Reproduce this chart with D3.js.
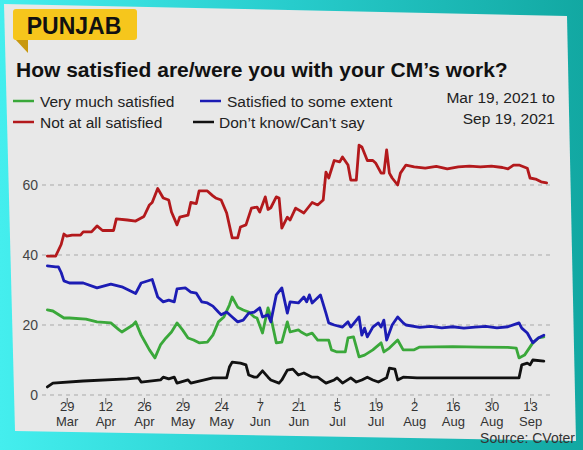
<!DOCTYPE html>
<html><head><meta charset="utf-8">
<script src="https://cdn.jsdelivr.net/npm/d3@7"></script>
<style>html,body{margin:0;padding:0;background:#2bd6d6;}svg{display:block;}</style>
</head><body>
<svg id="c" width="583" height="450"></svg>
<script>
// ---- data (days after Mar 19, 2021; values in %) ----
const startDate = new Date(2021, 2, 19);
const endDate = new Date(2021, 8, 19);
const seriesNames = ["Very much satisfied", "Satisfied to some extent", "Not at all satisfied", "Don\u2019t know/Can\u2019t say"];
const seriesColors = ["#3aa83a", "#1c1cb4", "#b3191c", "#111111"];

const greenDay = [3,5,9,11,17,21,26,29,30,34,35,37,38,40,42,44,46,48,50,52,54,56,58,61,63,65,67,69,70,72,74,76,78,79,81,83,84,85,86,88,90,91,94,95,97,99,101,105,106,108,111,112,114,116,118,121,124,125,127,130,132,136,138,150,160,170,173,174,176,179,181,183];
const greenVal = [24.3,24,22,22,21.7,20.9,20.6,18.6,18,20,20.9,17.1,15.7,12.9,10.6,14.3,16.3,18,20.6,18.6,16.3,15.7,14.9,15.1,17.1,20.9,22.3,25.7,28,25.1,24.3,23.7,22.3,22,17.7,24.9,22.3,18.6,14.9,15.1,20.9,18,18.6,18,17.1,17.7,15.7,15.7,12.9,12.3,12.3,16.3,16.6,10.9,11.4,12.9,14.9,12.3,13.4,15.7,12.9,12.9,13.7,13.8,13.7,13.6,13.4,10.6,11.4,14.9,16.3,16.6];

const blueDay = [3,6,7,8,9,11,16,21,26,30,35,37,41,43,45,47,49,50,53,55,57,59,61,63,65,66,68,70,72,74,76,78,80,81,83,84,86,88,90,91,94,96,97,98,99,102,104,105,107,110,112,113,116,117,118,119,121,123,124,125,126,128,130,132,133,138,142,146,150,154,158,162,166,170,174,175,177,179,181,183];
const blueVal = [36.9,36.6,36.6,35,32.6,32,32,30.6,31.7,30.9,29,32,33,28,26.6,27.1,26.6,30.3,30.6,29.4,29.1,26.6,26.3,25.4,23.7,22.9,23.7,22.3,20.9,21.4,23.4,23.7,24.9,22.3,22.9,20.9,28.6,30.6,23.4,26.6,26.3,28,26.6,28.6,26.3,28.6,23.4,20.6,20,19.4,20.9,19.4,22.3,17.1,19.1,16.6,19.4,20.6,19.4,21.4,15.7,20,22.3,20.6,20,19.3,19.6,19.2,19.5,19.1,19.4,19.6,19.2,19.5,20.6,19.1,17.7,14.9,16.3,17.1];

const redDay = [3,6,8,9,10,12,15,16,19,21,23,27,28,32,35,38,40,41,43,45,47,48,50,51,54,55,57,58,61,63,64,66,68,70,72,73,75,77,79,80,82,83,84,86,87,88,90,91,93,96,99,101,103,104,105,107,109,110,112,113,115,116,117,119,121,122,124,125,126,127,128,130,131,133,136,140,144,148,152,156,160,164,168,170,172,174,177,178,180,182,184];
const redVal = [39.7,39.7,43,46,45.4,45.7,45.7,46.6,46.6,48.3,47,47,50.3,50,49.7,51,54.3,55,59,56.3,55.7,52.3,48.6,50.8,51.4,55,54.7,58.3,58.3,56.9,56.3,55.7,52,44.9,44.9,48,48.6,53.4,53.7,52.3,56.6,53,53.5,56.6,56.3,47.7,50.8,50,53.4,52,55,54.3,55.7,63.7,62,67,66.6,68,65.7,61.4,61.4,71.4,70.9,67,67,66.3,63.4,63.4,70,63.4,62,60,63.4,65.7,65.2,64.8,65.3,64.6,65.2,65.4,65.2,65.4,65,64.6,65.7,65.7,64.8,62,61.7,60.9,60.6];

const blackDay = [3,5,16,32,36,37,44,45,47,49,50,54,55,63,68,69,70,73,75,76,78,79,81,83,84,87,88,90,92,94,96,99,101,104,107,108,110,113,115,117,119,121,123,126,127,129,130,132,137,150,160,170,174,175,177,178,179,183];
const blackVal = [2.3,3.4,4,4.6,4.9,3.7,4.3,5.1,4.6,5.1,3.4,4.3,3.4,4.9,4.9,8,9.4,9.1,8.6,5.7,5.1,5.1,6.9,5.1,4.3,3.4,4.3,7.1,7.4,5.7,6.3,5.1,5.1,3.4,4.3,4.9,3.4,4.9,3.7,4.3,5.1,4.3,3.7,4.9,7.7,7.4,4.3,5.1,4.9,4.9,4.9,4.9,4.9,8.6,9.1,8.6,10,9.7];

const yTicks = [0, 20, 40, 60];
const tickDates = ["2021-03-29","2021-04-12","2021-04-26","2021-05-10","2021-05-24","2021-06-07","2021-06-21","2021-07-05","2021-07-19","2021-08-02","2021-08-16","2021-08-30","2021-09-13"];
const tickDayLabels = ["29","12","26","29","24","7","21","5","19","2","16","30","13"];
const tickMonthLabels = ["Mar","Apr","Apr","May","May","Jun","Jun","Jul","Jul","Aug","Aug","Aug","Sep"];

// ---- drawing ----
const svg = d3.select("#c");
const FONT = "'Liberation Sans', Arial, Helvetica, sans-serif";

const defs = svg.append("defs");
const bg = defs.append("linearGradient").attr("id", "bg").attr("x1", "0").attr("x2", "1").attr("y1", "0").attr("y2", "0");
bg.append("stop").attr("offset", "0").attr("stop-color", "#44eeee");
bg.append("stop").attr("offset", "0.5").attr("stop-color", "#27cccc");
bg.append("stop").attr("offset", "1").attr("stop-color", "#12a8a2");
svg.append("rect").attr("width", 583).attr("height", 450).attr("fill", "url(#bg)");

// card
svg.append("polygon").attr("points", "4,4 567,16 576,441 15,431").attr("fill", "#e8e8e8");

// badge
svg.append("polygon").attr("points", "14,38 28,38 28,53").attr("fill", "#c8980e");
svg.append("rect").attr("x", 13).attr("y", 9).attr("width", 124).attr("height", 31).attr("rx", 3).attr("fill", "#f6c61c");
svg.append("text").attr("x", 74).attr("y", 34).attr("text-anchor", "middle")
  .attr("font-family", FONT).attr("font-weight", "bold").attr("font-size", 23).attr("fill", "#111").text("PUNJAB");

// title
svg.append("text").attr("x", 16).attr("y", 77).attr("font-family", FONT).attr("font-weight", "bold")
  .attr("font-size", 21).attr("fill", "#111").text("How satisfied are/were you with your CM\u2019s work?");

// legend
const legendPos = [[13, 101, 40], [200, 101, 227], [13, 122, 40], [193, 122, 219]];
seriesNames.forEach((n, i) => {
  const [lx, ly, tx] = legendPos[i];
  svg.append("line").attr("x1", lx).attr("x2", lx + 21).attr("y1", ly).attr("y2", ly)
    .attr("stroke", seriesColors[i]).attr("stroke-width", 2.5);
  svg.append("text").attr("x", tx).attr("y", ly + 5.5).attr("font-family", FONT).attr("font-size", 15.5)
    .attr("fill", "#222").text(n);
});
svg.append("text").attr("x", 555).attr("y", 103).attr("text-anchor", "end").attr("font-family", FONT)
  .attr("font-size", 15.5).attr("fill", "#222").text("Mar 19, 2021 to");
svg.append("text").attr("x", 555).attr("y", 124).attr("text-anchor", "end").attr("font-family", FONT)
  .attr("font-size", 15.5).attr("fill", "#222").text("Sep 19, 2021");

// scales
const x = d3.scaleTime().domain([startDate, endDate]).range([39.1, 546.6]);
const y = d3.scaleLinear().domain([0, 60]).range([395, 185]);
const dayToDate = d => d3.timeDay.offset(startDate, d);

// gridlines
svg.append("g").selectAll("line").data(yTicks).join("line")
  .attr("x1", 42).attr("x2", 551).attr("y1", d => y(d)).attr("y2", d => y(d))
  .attr("stroke", "#a9a9a9").attr("stroke-width", 1).attr("stroke-dasharray", "4,4");

// y labels
svg.append("g").selectAll("text").data(yTicks).join("text")
  .attr("x", 38).attr("y", d => y(d) + 5).attr("text-anchor", "end")
  .attr("font-family", FONT).attr("font-size", 14).attr("fill", "#444").text(d => d);

// x axis
const parse = d3.timeParse("%Y-%m-%d");
const tvals = tickDates.map(parse);
const xAxis = d3.axisBottom(x).tickValues(tvals).tickSize(6).tickFormat(() => "");
const gx = svg.append("g").attr("transform", "translate(0,398)").call(xAxis);
gx.select(".domain").remove();
gx.selectAll(".tick line").attr("stroke", "#666");
gx.selectAll(".tick text").remove();
gx.selectAll(".tick").each(function (d, i) {
  const t = d3.select(this);
  t.append("text").attr("x", 0).attr("y", 13).attr("text-anchor", "middle").attr("font-family", FONT)
    .attr("font-size", 13).attr("fill", "#333").text(tickDayLabels[i]);
  t.append("text").attr("x", 0).attr("y", 28).attr("text-anchor", "middle").attr("font-family", FONT)
    .attr("font-size", 13).attr("fill", "#333").text(tickMonthLabels[i]);
});

// lines
const line = d3.line().x(d => x(dayToDate(d[0]))).y(d => y(d[1]));
const seriesData = [
  d3.zip(greenDay, greenVal),
  d3.zip(blueDay, blueVal),
  d3.zip(redDay, redVal),
  d3.zip(blackDay, blackVal)
];
const order = [3, 0, 1, 2];
order.forEach(i => {
  svg.append("path").datum(seriesData[i]).attr("d", line).attr("fill", "none")
    .attr("stroke", seriesColors[i]).attr("stroke-width", 2.8)
    .attr("stroke-linejoin", "round").attr("stroke-linecap", "round");
});

// source
svg.append("text").attr("x", 575).attr("y", 443).attr("text-anchor", "end").attr("font-family", FONT)
  .attr("font-size", 14).attr("fill", "#333").text("Source: CVoter");
</script>
</body></html>
